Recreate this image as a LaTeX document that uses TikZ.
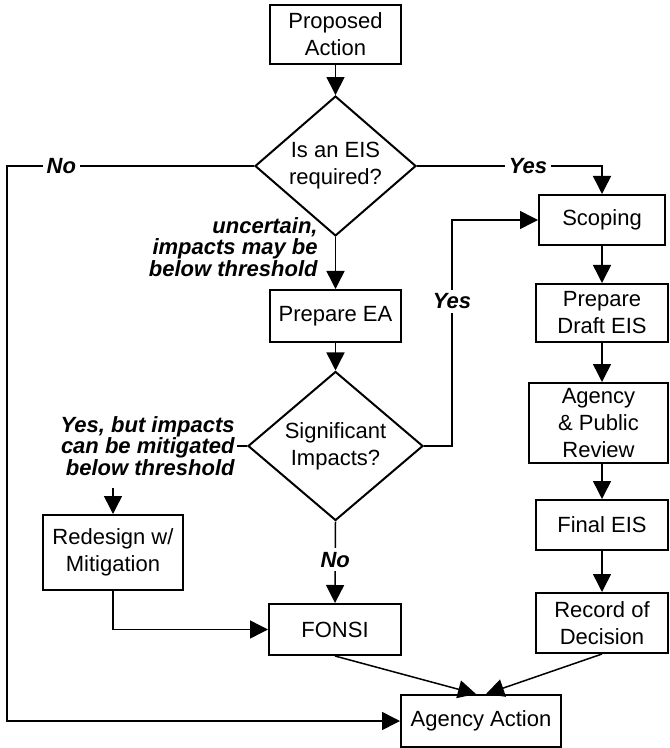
\documentclass[tikz,border=0pt]{standalone}
\usepackage{fontspec}
\setmainfont{Liberation Sans}
\usetikzlibrary{arrows.meta,calc,shapes.geometric}
\newcommand{\stepfont}{\fontsize{11}{13.5}\selectfont}
\newcommand{\choicefont}{\fontsize{11}{10.8}\selectfont\bfseries\itshape}
\tikzset{
    nepa flow/.style = {>={Triangle[length=9pt, width=9pt]},
                        x=0.5pt, y=-0.5pt},
    line/.style      = {line width=0.75pt},
    stepbox/.style   = {draw, line width=1pt, fill=white, align=center,
                        font=\stepfont, inner sep=0pt},
    decision/.style  = {draw, diamond, line width=1pt, fill=white,
                        align=center, font=\stepfont, inner sep=0pt},
    choice/.style    = {font=\choicefont, align=right, inner sep=1pt},
    onwire/.style    = {font=\choicefont, fill=white, inner sep=2pt}
}

\begin{document}
\begin{tikzpicture}[nepa flow]
\useasboundingbox (0,0) rectangle (669,748);

% ================= Screening (centre column) =================
\node[stepbox, minimum width=65.5pt, minimum height=29.5pt]
    (proposed) at (335.5, 34.5) {Proposed\\Action};
\node[decision, minimum width=80.5pt, minimum height=51pt]
    (eisreq) at (335.5, 166) {Is an EIS\\required?};
\node[stepbox, minimum width=65.5pt, minimum height=26pt]
    (prepEA) at (335.5, 316) {Prepare EA};
\node[decision, minimum width=87.5pt, minimum height=62.5pt]
    (signif) at (335.5, 446) {Significant\\Impacts?};
\node[stepbox, minimum width=66pt, minimum height=25.5pt]
    (fonsi) at (335, 629.5) {FONSI};
\node[stepbox, minimum width=70pt, minimum height=37.5pt]
    (redesign) at (113, 552.5) {Redesign w/\\Mitigation};

% ================= EIS track (right column) =================
\node[stepbox, minimum width=63pt, minimum height=25pt]
    (scoping) at (602, 220) {Scoping};
\node[stepbox, minimum width=66pt, minimum height=29pt]
    (draftEIS) at (602, 313) {Prepare\\Draft EIS};
\node[stepbox, minimum width=69.5pt, minimum height=40pt]
    (review) at (598.5, 423) {Agency\\\& Public\\Review};
\node[stepbox, minimum width=66pt, minimum height=25pt]
    (finalEIS) at (602, 525) {Final EIS};
\node[stepbox, minimum width=66pt, minimum height=30pt]
    (rod) at (602, 623) {Record of\\Decision};

\node[stepbox, minimum width=80pt, minimum height=26pt]
    (action) at (481, 721) {Agency Action};

% ================= Branch labels =================
\node[choice, anchor=east] (uncertain) at (320, 247)
    {uncertain,\\impacts may be\\below threshold};
\node[choice, anchor=east] (mitigate) at (237, 446)
    {Yes, but impacts\\can be mitigated\\below threshold};

\coordinate (norail)      at (7, 166);
\coordinate (sigyes)      at (452, 446);
\coordinate (redesigntop) at (113, 488);

% ================= Connectors =================
\draw[->, line] (proposed) -- (eisreq);
\draw[->, line] (eisreq.west) -- node[onwire, pos=0.78] {No} (norail)
                               |- (action.west);
\draw[->, line] (eisreq.east) -| node[onwire, pos=0.3] {Yes} (scoping.north);
\draw[->, line] (eisreq) -- (prepEA);
\draw[->, line] (prepEA) -- (signif);
\draw[->, line] (signif.east) -- (sigyes)
                |- node[onwire, pos=0.32] {Yes} (scoping.west);
\draw[line] (mitigate.east) -- (signif.west);
\draw[->, line] (redesigntop) -- (redesign.north);
\draw[->, line] (redesign.south) |- (fonsi.west);
\draw[->, line] (signif.south) -- node[onwire, pos=0.47] {No} (fonsi.north);

\draw[->, line] (scoping) -- (draftEIS);
\draw[->, line] (draftEIS.south) -- (draftEIS.south |- review.north);
\draw[->, line] (finalEIS.north |- review.south) -- (finalEIS.north);
\draw[->, line] (finalEIS) -- (rod);

\draw[->, line] (fonsi.south) -- ($(action.north)+(-5,0)$);
\draw[->, line] (rod.south) -- ($(action.north)+(5,0)$);

\end{tikzpicture}
\end{document}
